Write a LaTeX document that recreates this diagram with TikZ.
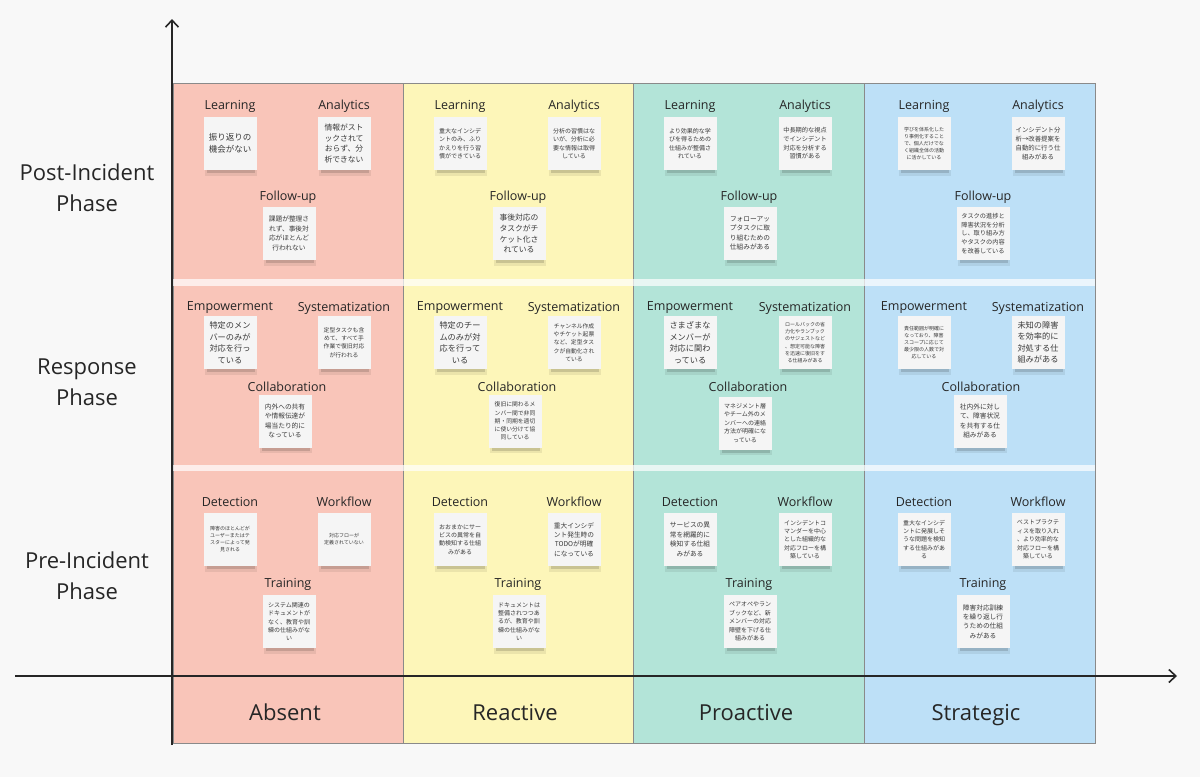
\documentclass[tikz,border=0pt]{standalone}
\usepackage{fontspec}
\setmainfont{Open Sans}
\newfontfamily\jp{Noto Sans CJK JP}
\usetikzlibrary{arrows.meta}
\definecolor{bgc}{HTML}{F8F8F8}
\definecolor{cabs}{HTML}{F9C5B9}
\definecolor{crea}{HTML}{FDF6B9}
\definecolor{cpro}{HTML}{B3E4D8}
\definecolor{cstr}{HTML}{BDE0F7}
\definecolor{ink}{HTML}{262626}
\definecolor{notec}{HTML}{F5F5F5}
\definecolor{notetext}{HTML}{3A3A3A}
\definecolor{colline}{HTML}{8A8A8A}
\tikzset{
  stick/.style={fill=notec,minimum width=53,minimum height=53,inner sep=0pt,align=center,text=notetext},
  cat/.style={font=\fontsize{12.5}{15}\selectfont,text=ink,inner sep=0pt},
  rowlab/.style={font=\fontsize{22}{31}\selectfont,text=ink,align=center,inner sep=0pt},
  collab/.style={font=\fontsize{22}{26}\selectfont,text=ink,inner sep=0pt,anchor=base},
  axis/.style={draw=ink,line width=2pt,-{Straight Barb[length=7pt,width=13pt,line width=1.6pt]}},
  colbox/.style={draw=colline,line width=0.6pt},
}
\newcommand\stk[6]{%
  \fill[black,opacity=.07] (#2-25,#3+24) rectangle (#2+27,#3+32);
  \fill[black,opacity=.14] (#2-23,#3+25) rectangle (#2+25,#3+29.5);
  \node[stick,font=\jp\fontsize{#4}{#5}\selectfont] (#1) at (#2,#3) {#6};
}
\begin{document}
\begin{tikzpicture}[x=1pt,y=-1pt]
\useasboundingbox (0,0) rectangle (1200,777);
\fill[bgc] (0,0) rectangle (1200,777);
% columns
\fill[cabs] (173,83) rectangle (403,743);
\fill[crea] (403,83) rectangle (633,743);
\fill[cpro] (633,83) rectangle (864,743);
\fill[cstr] (864,83) rectangle (1095,743);
\draw[colbox] (173,83) rectangle (403,743);
\draw[colbox] (403,83) rectangle (633,743);
\draw[colbox] (633,83) rectangle (864,743);
\draw[colbox] (864,83) rectangle (1095,743);
\fill[white,opacity=.7] (173,278.5) rectangle (1095,285.5);
\fill[white,opacity=.7] (173,465) rectangle (1095,471);
% axes
\coordinate (yb) at (172,745);
\coordinate (yt) at (172,19);
\coordinate (xl) at (15,676);
\coordinate (xr) at (1177,676);
\draw[axis] (yb) -- (yt);
\draw[axis] (xl) -- (xr);
% row labels
\node[rowlab] (rpost) at (87,187.5) {Post-Incident\\Phase};
\node[rowlab] (rresp) at (87,382) {Response\\Phase};
\node[rowlab] (rpre) at (87,576) {Pre-Incident\\Phase};
% column labels
\node[collab] (cAbs) at (285,720) {Absent};
\node[collab] (cRea) at (515,720) {Reactive};
\node[collab] (cPro) at (746,720) {Proactive};
\node[collab] (cStr) at (976,720) {Strategic};

% ===== Absent =====
\node[cat] (a1l) at (230,106) {Learning};
\node[cat] (a1r) at (344,106) {Analytics};
\node[cat] (a1m) at (288,197) {Follow-up};
\stk{na1l}{230}{143.5}{8.5}{11.9}{振り返りの\\機会がない}
\stk{na1r}{344}{143.5}{7.8}{10.9}{情報がスト\\ックされて\\おらず、分\\析できない}
\stk{na1m}{289}{233.5}{6.7}{9.4}{課題が整理さ\\れず、事後対\\応がほとんど\\行われない}
\node[cat] (a2l) at (230,308) {Empowerment};
\node[cat] (a2r) at (344,308) {Systematization};
\node[cat] (a2m) at (287,387) {Collaboration};
\stk{na2l}{230}{342.5}{8.2}{11.5}{特定のメン\\バーのみが\\対応を行っ\\ている}
\stk{na2r}{344}{342.5}{5.8}{8.2}{定型タスクも含\\めて、すべて手\\作業で復旧対応\\が行われる}
\stk{na2m}{285}{421}{6.7}{9.4}{内外への共有\\や情報伝達が\\場当たり的に\\なっている}
\node[cat] (a3l) at (230,502) {Detection};
\node[cat] (a3r) at (344,502) {Workflow};
\node[cat] (a3m) at (288,584) {Training};
\stk{na3l}{230}{539.5}{5}{7}{障害のほとんどが\\ユーザーまたはテ\\スターによって発\\見される}
\stk{na3r}{344}{539.5}{5}{7}{対応フローが\\定義されていない}
\stk{na3m}{289}{621.5}{6}{8.4}{システム関連の\\ドキュメントが\\なく、教育や訓\\練の仕組みがな\\い}

% ===== Reactive =====
\node[cat] (r1l) at (460,106) {Learning};
\node[cat] (r1r) at (574,106) {Analytics};
\node[cat] (r1m) at (518,197) {Follow-up};
\stk{nr1l}{460}{143.5}{6}{8.4}{重大なインシデ\\ントのみ、ふり\\かえりを行う習\\慣ができている}
\stk{nr1r}{574}{143.5}{6}{8.4}{分析の習慣はな\\いが、分析に必\\要な情報は取得\\している}
\stk{nr1m}{519}{233.5}{7.8}{10.9}{事後対応の\\タスクがチ\\ケット化さ\\れている}
\node[cat] (r2l) at (460,308) {Empowerment};
\node[cat] (r2r) at (574,308) {Systematization};
\node[cat] (r2m) at (517,387) {Collaboration};
\stk{nr2l}{460}{342.5}{8.2}{11.5}{特定のチー\\ムのみが対\\応を行って\\いる}
\stk{nr2r}{574}{342.5}{5.8}{8.2}{チャンネル作成\\やチケット起票\\など、定型タス\\クが自動化され\\ている}
\stk{nr2m}{515}{421}{5.8}{8.2}{復旧に関わるメ\\ンバー間で非同\\期・同期を適切\\に使い分けて協\\同している}
\node[cat] (r3l) at (460,502) {Detection};
\node[cat] (r3r) at (574,502) {Workflow};
\node[cat] (r3m) at (518,584) {Training};
\stk{nr3l}{460}{539.5}{6}{8.4}{おおまかにサー\\ビスの異常を自\\動検知する仕組\\みがある}
\stk{nr3r}{574}{539.5}{6.7}{9.4}{重大インシデ\\ント発生時の\\TODOが明確\\になっている}
\stk{nr3m}{519}{621.5}{6}{8.4}{ドキュメントは\\整備されつつあ\\るが、教育や訓\\練の仕組みがな\\い}

% ===== Proactive =====
\node[cat] (p1l) at (690,106) {Learning};
\node[cat] (p1r) at (805,106) {Analytics};
\node[cat] (p1m) at (749,197) {Follow-up};
\stk{np1l}{690}{143.5}{6}{8.4}{より効果的な学\\びを得るための\\仕組みが整備さ\\れている}
\stk{np1r}{805}{143.5}{6.2}{8.7}{中長期的な視点\\でインシデント\\対応を分析する\\習慣がある}
\stk{np1m}{750}{233.5}{6.7}{9.4}{フォローアッ\\プタスクに取\\り組むための\\仕組みがある}
\node[cat] (p2l) at (690,308) {Empowerment};
\node[cat] (p2r) at (805,308) {Systematization};
\node[cat] (p2m) at (748,387) {Collaboration};
\stk{np2l}{690}{342.5}{8.2}{11.5}{さまざまな\\メンバーが\\対応に関わ\\っている}
\stk{np2r}{805}{342.5}{5}{7.2}{ロールバックの省\\力化やランブック\\のサジェストなど\\、想定可能な障害\\を迅速に復旧をす\\る仕組みがある}
\stk{np2m}{745}{423}{6}{8.4}{マネジメント層\\やチーム外のメ\\ンバーへの連絡\\方法が明確にな\\っている}
\node[cat] (p3l) at (690,502) {Detection};
\node[cat] (p3r) at (805,502) {Workflow};
\node[cat] (p3m) at (749,584) {Training};
\stk{np3l}{690}{539.5}{6.7}{9.4}{サービスの異\\常を網羅的に\\検知する仕組\\みがある}
\stk{np3r}{805}{539.5}{6}{8.4}{インシデントコ\\マンダーを中心\\とした組織的な\\対応フローを構\\築している}
\stk{np3m}{750}{621.5}{6}{8.4}{ペアオペやラン\\ブックなど、新\\メンバーの対応\\障壁を下げる仕\\組みがある}

% ===== Strategic =====
\node[cat] (s1l) at (924,106) {Learning};
\node[cat] (s1r) at (1038,106) {Analytics};
\node[cat] (s1m) at (983,197) {Follow-up};
\stk{ns1l}{924}{143.5}{5}{7.2}{学びを体系化した\\り事例化すること\\で、個人だけでな\\く組織全体の活動\\に活かしている}
\stk{ns1r}{1038}{143.5}{6.4}{9}{インシデント分\\析→改善提案を\\自動的に行う仕\\組みがある}
\stk{ns1m}{983}{233.5}{6.2}{8.7}{タスクの進捗と\\障害状況を分析\\し、取り組み方\\やタスクの内容\\を改善している}
\node[cat] (s2l) at (924,308) {Empowerment};
\node[cat] (s2r) at (1038,308) {Systematization};
\node[cat] (s2m) at (981,387) {Collaboration};
\stk{ns2l}{924}{342.5}{5}{7.2}{責任範囲が明確に\\なっており、障害\\スコープに応じて\\最少限の人数で対\\応している}
\stk{ns2r}{1038}{342.5}{8.2}{11.5}{未知の障害\\を効率的に\\対処する仕\\組みがある}
\stk{ns2m}{980}{421}{6.7}{9.4}{社内外に対し\\て、障害状況\\を共有する仕\\組みがある}
\node[cat] (s3l) at (924,502) {Detection};
\node[cat] (s3r) at (1038,502) {Workflow};
\node[cat] (s3m) at (983,584) {Training};
\stk{ns3l}{924}{539.5}{6}{8.4}{重大なインシデ\\ントに発展しそ\\うな問題を検知\\する仕組みがあ\\る}
\stk{ns3r}{1038}{539.5}{6}{8.4}{ベストプラクテ\\ィスを取り入れ\\、より効率的な\\対応フローを構\\築している}
\stk{ns3m}{983}{621.5}{6.7}{9.4}{障害対応訓練\\を繰り返し行\\うための仕組\\みがある}
\end{tikzpicture}
\end{document}
